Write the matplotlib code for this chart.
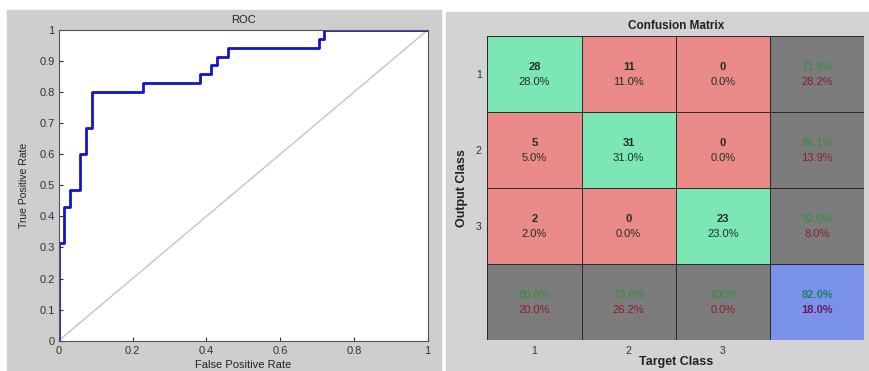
import numpy as np
import matplotlib.pyplot as plt
from matplotlib.patches import Rectangle
from matplotlib.colors import ListedColormap

plt.rcParams['font.family'] = ['Liberation Sans', 'DejaVu Sans']

# ROC curve vertices (step curve)
fpr = [0.0, 0.0, 0.0154, 0.0154, 0.031, 0.031, 0.0585, 0.0585, 0.075, 0.075,
       0.091, 0.091, 0.228, 0.228, 0.384, 0.384, 0.413, 0.413, 0.429, 0.429,
       0.458, 0.458, 0.706, 0.706, 0.719, 0.719, 1.0]
tpr = [0.0, 0.314, 0.314, 0.429, 0.429, 0.486, 0.486, 0.600, 0.600, 0.686,
       0.686, 0.800, 0.800, 0.829, 0.829, 0.857, 0.857, 0.886, 0.886, 0.914,
       0.914, 0.943, 0.943, 0.971, 0.971, 1.0, 1.0]

# confusion matrix (rows = output class, cols = target class)
classes = ['1', '2', '3']
counts = np.array([[28, 11, 0],
                   [5, 31, 0],
                   [2, 0, 23]])
row_good = ['71.8%', '86.1%', '92.0%']
row_bad = ['28.2%', '13.9%', '8.0%']
col_good = ['80.0%', '73.8%', '100%']
col_bad = ['20.0%', '26.2%', '0.0%']
total_good = '82.0%'
total_bad = '18.0%'

W, H = 869, 371
fig = plt.figure(figsize=(W / 100, H / 100), dpi=100, facecolor='white')

# grey panel backgrounds
fig.patches.append(Rectangle((7 / W, 0), 434 / W, (H - 10) / H,
                             transform=fig.transFigure, color='#cecece', zorder=-10))
fig.patches.append(Rectangle((446 / W, 0), 423 / W, (H - 12) / H,
                             transform=fig.transFigure, color='#d3d3d3', zorder=-10))

# ---------------- ROC ----------------
ax = fig.add_axes([58.7 / W, 30.3 / H, 369 / W, 310.7 / H])
ax.plot([0, 1], [0, 1], color='#c4c4c4', lw=1.0)
ax.plot(fpr, tpr, color='#1414c8', lw=2.0)
ax.set_xlim(0, 1)
ax.set_ylim(0, 1)
ax.set_xticks(np.arange(0, 1.01, 0.2))
ax.set_yticks(np.arange(0, 1.01, 0.1))
ax.xaxis.set_major_formatter(plt.FuncFormatter(lambda v, p: '%g' % round(v, 1)))
ax.yaxis.set_major_formatter(plt.FuncFormatter(lambda v, p: '%g' % round(v, 1)))
ax.tick_params(direction='in', length=3, labelsize=8, colors='#333333',
               top=False, right=False)
ax.tick_params(axis='x', pad=4)
ax.tick_params(axis='y', pad=3)
for s in ax.spines.values():
    s.set_color('#555555')
    s.set_linewidth(0.8)
ax.set_title('ROC', fontsize=8, color='#222222', pad=5)
ax.set_xlabel('False Positive Rate', fontsize=8, color='#222222', labelpad=3)
ax.set_ylabel('True Positive Rate', fontsize=7.5, color='#222222', labelpad=7)

# ---------------- Confusion matrix ----------------
cm = fig.add_axes([487.3 / W, 31 / H, 377 / W, 304 / H])
cm.patch.set_alpha(0)
n = len(classes)
total = counts.sum()
cat = np.full((n + 1, n + 1), 2)
for i in range(n):
    for j in range(n):
        cat[i, j] = 0 if i == j else 1
cat[n, n] = 3
cmap = ListedColormap(['#7ce6b5', '#ea8b89', '#7c7c7c', '#7b92ea'])
cm.pcolormesh(cat, cmap=cmap, vmin=-0.5, vmax=3.5,
              edgecolors='#2a2a2a', linewidth=0.6)
cm.set_xlim(0, n + 1)
cm.set_ylim(n + 1, 0)

txt = '#1f2f26'
green = '#2f8f3a'
red = '#8a1f2a'
fs = 8
for i in range(n):
    for j in range(n):
        c = counts[i, j]
        cm.text(j + 0.5, i + 0.41, str(c), ha='center', va='center',
                fontsize=fs, fontweight='bold', color=txt)
        cm.text(j + 0.5, i + 0.6, '%.1f%%' % (100.0 * c / total),
                ha='center', va='center', fontsize=fs, color=txt)
    cm.text(n + 0.5, i + 0.41, row_good[i], ha='center', va='center',
            fontsize=fs, color=green)
    cm.text(n + 0.5, i + 0.6, row_bad[i], ha='center', va='center',
            fontsize=fs, color=red)
    cm.text(i + 0.5, n + 0.41, col_good[i], ha='center', va='center',
            fontsize=fs, color=green)
    cm.text(i + 0.5, n + 0.6, col_bad[i], ha='center', va='center',
            fontsize=fs, color=red)
cm.text(n + 0.5, n + 0.41, total_good, ha='center', va='center',
        fontsize=fs, fontweight='bold', color='#1f7f6a')
cm.text(n + 0.5, n + 0.6, total_bad, ha='center', va='center',
        fontsize=fs, fontweight='bold', color='#6a1a5a')

cm.set_xticks(np.arange(n) + 0.5)
cm.set_xticklabels(classes)
cm.set_yticks(np.arange(n) + 0.5)
cm.set_yticklabels(classes)
cm.tick_params(length=0, labelsize=7.5, colors='#333333', pad=4)
for s in cm.spines.values():
    s.set_visible(False)
cm.set_title('Confusion Matrix', fontsize=8.5, fontweight='bold',
             color='#222222', pad=5)
cm.set_xlabel('Target Class', fontsize=9, fontweight='bold', color='#222222',
              labelpad=0)
cm.set_ylabel('Output Class', fontsize=9, fontweight='bold', color='#222222',
              labelpad=6)

fig.savefig('out.png', dpi=100, facecolor=fig.get_facecolor())
